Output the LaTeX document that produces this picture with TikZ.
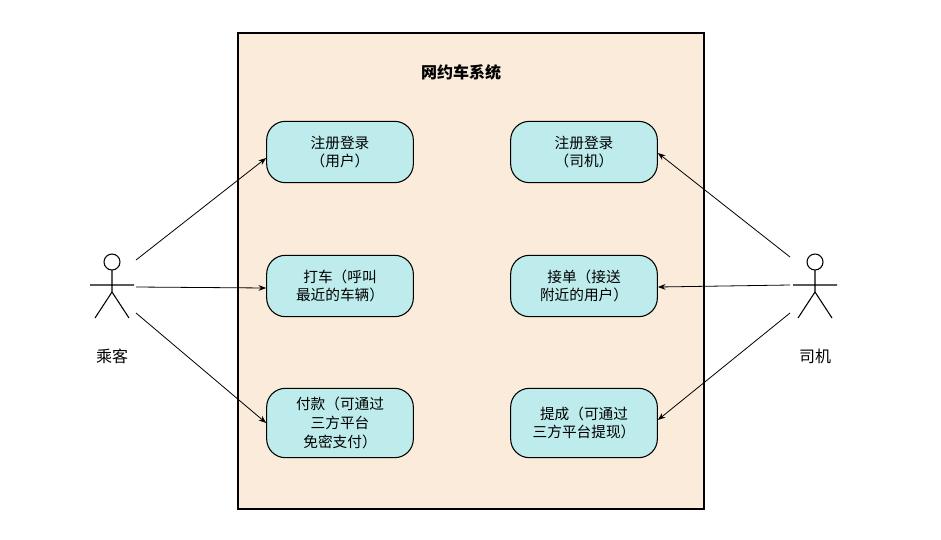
\documentclass[tikz,border=0pt]{standalone}
\usepackage{fontspec}
\setmainfont{Noto Sans CJK SC}
\usetikzlibrary{arrows.meta, positioning}
\definecolor{sysbeige}{RGB}{250,235,218}
\definecolor{casecyan}{RGB}{190,236,236}
\tikzset{casenode/.style={rectangle, rounded corners=14pt, fill=casecyan, draw=black, line width=0.8pt, minimum width=110pt, minimum height=46pt, align=center, font=\fontsize{11}{14}\selectfont, inner sep=2pt},
linkarrow/.style={-Stealth, line width=0.6pt}}
\begin{document}
\begin{tikzpicture}[x=0.75pt, y=-0.75pt]
        \useasboundingbox (0,0) rectangle (941,539);
        % System box
        \draw[fill=sysbeige, line width=0.8pt] (238,33) rectangle (704,509);
        \node[font=\fontsize{12}{14}\selectfont\bfseries] (title) at (461,72) {网约车系统};
        % Use cases
        \node[casenode] (regUser) at (340,152) {注册登录\\（用户）};
        \node[casenode] (callCar) at (340,286) {打车（呼叫\\最近的车辆）};
        \node[casenode, minimum height=52pt] (pay) at (340,423) {付款（可通过\\三方平台\\免密支付）};
        \node[casenode] (regDriver) at (584,152) {注册登录\\（司机）};
        \node[casenode] (accept) at (584,286) {接单（接送\\附近的用户）};
        \node[casenode, minimum height=52pt] (withdraw) at (584,423) {提成（可通过\\三方平台提现）};
        % Actors
        \foreach \ax/\name/\lbl in {112/passenger/乘客, 815/driver/司机} {
            \draw[line width=0.8pt] (\ax,262) circle (8);
            \draw[line width=0.8pt] (\ax,270) -- (\ax,292) (\ax-22,285) -- (\ax+22,285)
                (\ax-17,318) -- (\ax,292) -- (\ax+17,318);
            \node[font=\fontsize{12}{14}\selectfont] (\name) at (\ax,356) {\lbl};
        }
        \coordinate (pA) at (136,260);
        \coordinate (pB) at (136,287);
        \coordinate (pC) at (136,313);
        \coordinate (dA) at (790,257);
        \coordinate (dB) at (790,285);
        \coordinate (dC) at (790,313);
        % Links
        \draw[linkarrow] (pA) -- (regUser.west |- 0,158);
        \draw[linkarrow] (pB) -- (callCar.west |- 0,288);
        \draw[linkarrow] (pC) -- (pay.west |- 0,423);
        \draw[linkarrow] (dA) -- (regDriver.east |- 0,153);
        \draw[linkarrow] (dB) -- (accept.east |- 0,287);
        \draw[linkarrow] (dC) -- (withdraw.east |- 0,420);
\end{tikzpicture}
\end{document}
